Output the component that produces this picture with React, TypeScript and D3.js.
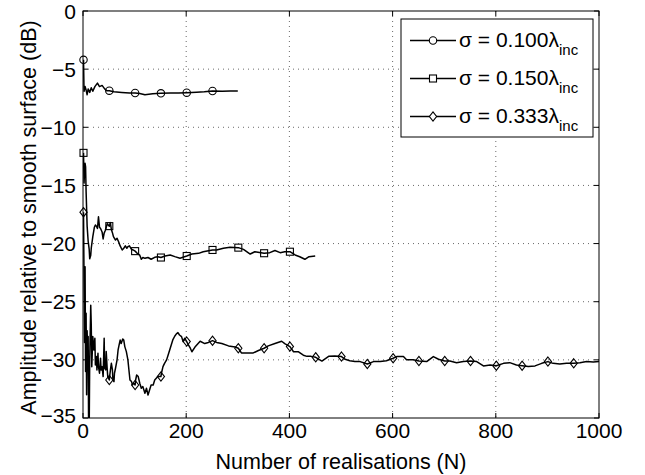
import React from "react";
import * as d3 from "d3";

const W = 645;
const H = 475;
const M = { left: 83, right: 599, top: 11, bottom: 418 };

const xTicks = [0, 200, 400, 600, 800, 1000];
const yTicks = [0, -5, -10, -15, -20, -25, -30, -35];

const legendLabels = ["0.100", "0.150", "0.333"];
const markerShapes = ["circle", "square", "diamond"];

// sigma = 0.100 lambda_inc : [N, dB]
const series1: [number, number][] = [
  [1, -4.2], [2, -6.9], [4, -6.5], [6, -6.8], [8, -7.2], [10, -6.7], [13, -7.0], [16, -6.6],
  [19, -6.9], [23, -6.5], [28, -6.2], [32, -6.5], [37, -6.4], [42, -6.7], [46, -6.85],
  [51, -6.85], [60, -6.95], [75, -7.0], [90, -7.05], [101, -7.05], [110, -7.1], [120, -7.2],
  [135, -7.12], [151, -7.08], [170, -7.05], [185, -7.05], [201, -7.02], [220, -6.98],
  [235, -6.95], [251, -6.88], [270, -6.9], [285, -6.88], [300, -6.88],
];

// sigma = 0.150 lambda_inc
const series2: [number, number][] = [
  [1, -12.2], [2, -14.8], [3, -13.8], [4, -13.1], [5, -13.4], [6, -15.5], [7, -17.0],
  [8, -18.5], [10, -19.8], [12, -20.5], [13, -21.3], [15, -21.0], [16, -20.4], [19, -19.4],
  [22, -18.6], [24, -18.4], [26, -18.5], [28, -18.7], [30, -17.7], [32, -18.6], [34, -18.7],
  [37, -19.0], [39, -19.6], [41, -19.1], [43, -18.9], [45, -18.6], [47, -18.3], [49, -18.4],
  [51, -18.5], [53, -18.2], [55, -18.8], [57, -19.06], [59, -19.4], [63, -19.7], [66, -19.55],
  [69, -19.84], [72, -20.2], [76, -20.55], [79, -20.4], [82, -20.2], [85, -20.4], [87, -20.27],
  [90, -20.2], [94, -20.5], [97, -20.55], [101, -20.65], [105, -20.84], [110, -21.0],
  [113, -21.35], [116, -21.2], [120, -21.27], [126, -21.2], [132, -21.35], [139, -21.18],
  [145, -21.13], [151, -21.2], [159, -21.07], [169, -20.98], [178, -21.12], [188, -21.26],
  [201, -21.07], [211, -20.9], [224, -20.84], [233, -20.7], [251, -20.55], [259, -20.55],
  [272, -20.4], [285, -20.32], [301, -20.35], [311, -20.5], [324, -20.9], [333, -20.7],
  [351, -20.83], [362, -20.78], [372, -20.6], [382, -20.78], [391, -20.7], [401, -20.7],
  [411, -20.98], [420, -21.13], [430, -21.35], [438, -21.13], [450, -21.07],
];

// sigma = 0.333 lambda_inc
const series3: [number, number][] = [
  [1, -17.3], [2, -23], [3, -28.5], [4, -22], [5, -31], [6, -26], [7, -33], [8, -27.5],
  [9, -29.5], [10, -28], [11, -37], [12, -36], [13, -30], [15, -25.3], [16, -27],
  [17, -30.6], [19, -28.0], [21, -29.15], [23, -28.14], [24, -30.44], [26, -29.72],
  [27, -30.87], [29, -29.43], [30, -30.58], [32, -31.15], [34, -29.86], [35, -30.87],
  [37, -30.58], [39, -31.44], [41, -28.14], [42, -30.72], [44, -30.87], [45, -29.29],
  [47, -30.87], [48, -31.44], [51, -31.73], [52, -31.3], [54, -30.58], [55, -30.3],
  [57, -30.87], [58, -31.73], [60, -31.87], [61, -31.15], [63, -30.72], [66, -30.0],
  [68, -29.15], [70, -28.72], [72, -28.3], [74, -28.6], [77, -28.2], [79, -28.3],
  [81, -28.86], [84, -29.29], [87, -30.0], [89, -30.87], [91, -31.73], [94, -31.87],
  [96, -32.16], [98, -32.01], [101, -32.16], [102, -31.73], [104, -31.3], [107, -31.44],
  [110, -32.01], [113, -32.44], [116, -32.3], [120, -32.87], [123, -32.44], [126, -33.02],
  [129, -32.59], [132, -32.16], [136, -32.16], [139, -31.73], [142, -31.58], [145, -31.44],
  [151, -31.44], [152, -31.15], [155, -30.58], [158, -30.3], [162, -30.0], [165, -29.58],
  [168, -29.15], [171, -28.72], [174, -28.29], [178, -27.95], [181, -27.77], [184, -27.66],
  [187, -27.86], [191, -28.0], [194, -28.43], [197, -28.14], [201, -28.43], [204, -28.7],
  [208, -29.0], [211, -29.3], [217, -28.9], [227, -28.4], [236, -28.6], [243, -28.5],
  [251, -28.35], [259, -28.5], [269, -28.6], [282, -28.8], [295, -28.9], [301, -29.0],
  [307, -29.4], [317, -29.4], [330, -29.4], [340, -29.2], [351, -29.0], [359, -28.8],
  [372, -28.6], [385, -28.4], [391, -28.6], [401, -28.86], [408, -29.3], [417, -29.3],
  [427, -29.6], [434, -29.7], [442, -29.7], [451, -29.78], [463, -30.1], [476, -29.7],
  [488, -29.66], [501, -29.72], [508, -29.95], [517, -30.07], [527, -30.15], [537, -30.15],
  [551, -30.35], [563, -30.15], [576, -30.15], [588, -30.07], [601, -29.86], [608, -29.72],
  [621, -29.72], [627, -30.0], [640, -30.0], [651, -30.1], [666, -30.15], [679, -29.72],
  [689, -29.95], [701, -30.1], [711, -30.1], [724, -30.24], [737, -30.15], [751, -30.1],
  [763, -30.15], [776, -30.52], [789, -30.44], [801, -30.5], [815, -30.3], [827, -30.24],
  [840, -30.44], [851, -30.5], [863, -30.58], [876, -30.52], [889, -30.3], [901, -30.15],
  [911, -30.3], [924, -30.35], [937, -30.3], [951, -30.3], [963, -30.24], [976, -30.15],
  [989, -30.18], [1000, -30.15],
];

const allSeries = [series1, series2, series3];

const FONT = "'Liberation Sans', Arial, Helvetica, sans-serif";
const TICK_FS = 21;
const TITLE_FS = 21.5;
const LEG_FS = 21;

function Marker({ shape, x, y, fill }: { shape: string; x: number; y: number; fill: string }) {
  if (shape === "circle") {
    return <circle cx={x} cy={y} r={3.7} fill={fill} stroke="#000" strokeWidth={1.1} />;
  }
  if (shape === "square") {
    return <rect x={x - 3.5} y={y - 3.5} width={7} height={7} fill={fill} stroke="#000" strokeWidth={1.1} />;
  }
  const r = 4.6;
  const rw = 3.6;
  return (
    <path
      d={`M${x},${y - r}L${x + rw},${y}L${x},${y + r}L${x - rw},${y}Z`}
      fill={fill}
      stroke="#000"
      strokeWidth={1.1}
    />
  );
}

export default function App() {
  const x = d3.scaleLinear().domain([0, 1000]).range([M.left, M.right]);
  const y = d3.scaleLinear().domain([-35, 0]).range([M.bottom, M.top]);
  const line = d3
    .line<[number, number]>()
    .x((d) => x(d[0]))
    .y((d) => y(d[1]));

  const legend = { x0: 401, y0: 19, x1: 593, y1: 137 };
  const rowY = [40.5, 78.5, 116.5];

  return (
    <svg
      width={W}
      height={H}
      style={{ position: "absolute", left: 0, top: 0, background: "#fff" }}
      fontFamily={FONT}
    >
      <rect x={0} y={0} width={W} height={H} fill="#fff" />
      <defs>
        <clipPath id="plotClip">
          <rect x={M.left} y={M.top} width={M.right - M.left} height={M.bottom - M.top} />
        </clipPath>
      </defs>

      {/* grid */}
      <g stroke="#444" strokeWidth={0.8} strokeDasharray="1,4">
        {xTicks.slice(1, -1).map((t) => (
          <line key={"gx" + t} x1={x(t)} x2={x(t)} y1={M.top} y2={M.bottom} />
        ))}
        {yTicks.slice(1, -1).map((t) => (
          <line key={"gy" + t} x1={M.left} x2={M.right} y1={y(t)} y2={y(t)} />
        ))}
      </g>

      {/* series */}
      <g clipPath="url(#plotClip)">
        {allSeries.map((s, i) => (
          <path key={"s" + i} d={line(s) || ""} fill="none" stroke="#000" strokeWidth={1.5} strokeLinejoin="round" />
        ))}
      </g>
      <g>
        {allSeries.map((s, i) =>
          s
            .filter((d) => (d[0] - 1) % 50 === 0)
            .map((d) => <Marker key={"m" + i + "-" + d[0]} shape={markerShapes[i]} x={x(d[0])} y={y(d[1])} fill="none" />)
        )}
      </g>

      {/* axes box and ticks */}
      <rect x={M.left} y={M.top} width={M.right - M.left} height={M.bottom - M.top} fill="none" stroke="#000" strokeWidth={1} />
      <g stroke="#000" strokeWidth={1}>
        {xTicks.map((t) => (
          <g key={"tx" + t}>
            <line x1={x(t)} x2={x(t)} y1={M.bottom} y2={M.bottom - 5} />
            <line x1={x(t)} x2={x(t)} y1={M.top} y2={M.top + 5} />
          </g>
        ))}
        {yTicks.map((t) => (
          <g key={"ty" + t}>
            <line x1={M.left} x2={M.left + 5} y1={y(t)} y2={y(t)} />
            <line x1={M.right} x2={M.right - 5} y1={y(t)} y2={y(t)} />
          </g>
        ))}
      </g>

      {/* tick labels */}
      <g fontSize={TICK_FS} fill="#000">
        {xTicks.map((t) => (
          <text key={"lx" + t} x={x(t)} y={M.bottom + 20} textAnchor="middle">
            {String(t)}
          </text>
        ))}
        {yTicks.map((t) => (
          <text key={"ly" + t} x={M.left - 7} y={y(t) + (t === -35 ? 5 : 7.5)} textAnchor="end">
            {t < 0 ? "\u2212" + Math.abs(t) : String(t)}
          </text>
        ))}
      </g>

      {/* axis titles */}
      <text x={(M.left + M.right) / 2} y={469} textAnchor="middle" fontSize={TITLE_FS}>
        Number of realisations (N)
      </text>
      <text
        transform={`translate(35.5,${(M.top + M.bottom) / 2 + 3}) rotate(-90)`}
        textAnchor="middle"
        fontSize={TITLE_FS}
      >
        Amplitude relative to smooth surface (dB)
      </text>

      {/* legend */}
      <rect
        x={legend.x0}
        y={legend.y0}
        width={legend.x1 - legend.x0}
        height={legend.y1 - legend.y0}
        fill="#fff"
        stroke="#000"
        strokeWidth={1}
      />
      {legendLabels.map((lab, i) => (
        <g key={"lg" + i}>
          <line x1={410} x2={456} y1={rowY[i]} y2={rowY[i]} stroke="#000" strokeWidth={1.5} />
          <Marker shape={markerShapes[i]} x={433} y={rowY[i]} fill="#fff" />
          <text x={459} y={rowY[i] + 6.5} fontSize={LEG_FS}>
            {"\u03C3 = " + lab + "\u03BB"}
            <tspan fontSize={15} dy={8}>inc</tspan>
          </text>
        </g>
      ))}
    </svg>
  );
}
